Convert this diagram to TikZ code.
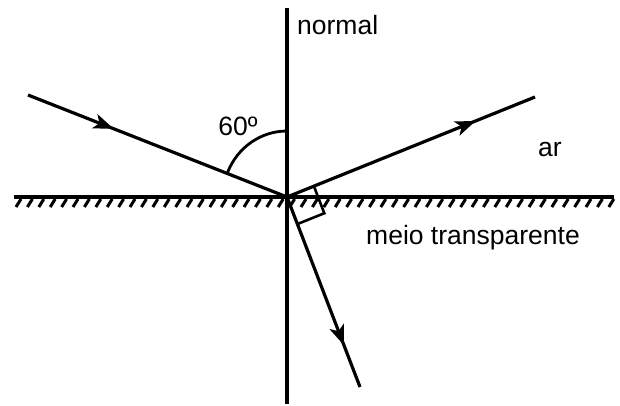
\documentclass[tikz,border=0pt]{standalone}
\usepackage{fontspec}
\setmainfont{Liberation Sans}
\usetikzlibrary{decorations.markings,arrows.meta,calc}
\begin{document}
\begin{tikzpicture}[x=1pt,y=-1pt,
  ray/.style={line width=3.2pt},
  hatch/.style={line width=3pt},
  arrowat/.style={postaction={decorate},decoration={markings,
     mark=at position #1 with {\arrow{Stealth[length=20pt,width=15pt,inset=5pt]}}}},
  lbl/.style={font=\fontsize{26.5}{30}\selectfont,inner sep=0pt}]
\useasboundingbox (0,0) rectangle (620,405);
\coordinate (O) at (287,197);
\coordinate (N1) at (287,8);
\coordinate (N2) at (287,404);
\coordinate (S1) at (14,197);
\coordinate (S2) at (614,197);
\coordinate (A) at (28,95);
\coordinate (B) at (535,97);
\coordinate (C) at (360,387);
% surface
\draw[ray] (S1) -- (S2);
\foreach \i in {0,...,52} {
  \draw[hatch] ($(S1)+(11.4*\i+2,10)$) -- ++(5,-8);
}
% normal
\draw[ray] (N1) -- (N2);
% rays
\draw[ray,arrowat=0.33] (A) -- (O);
\draw[ray,arrowat=0.76] (O) -- (B);
\draw[ray,arrowat=0.78] (O) -- (C);
% angle arc
\draw[line width=2.8pt] ($(O)+(0,-66)$) arc[start angle=90,end angle=158,x radius=64,y radius=-66];
% right angle mark
\draw[line width=2.6pt] ($(O)!29pt!(B)$) -- ($(O)!29pt!(B)+(O)!29pt!(C)-(O)$) -- ($(O)!29pt!(C)$);
% labels
\node[lbl,anchor=west] (nl) at (297,25) {normal};
\node[lbl] (al) at (238,126) {60º};
\node[lbl] (ar) at (550,149) {ar};
\node[lbl] (mt) at (473,238) {meio transparente};
\end{tikzpicture}
\end{document}
